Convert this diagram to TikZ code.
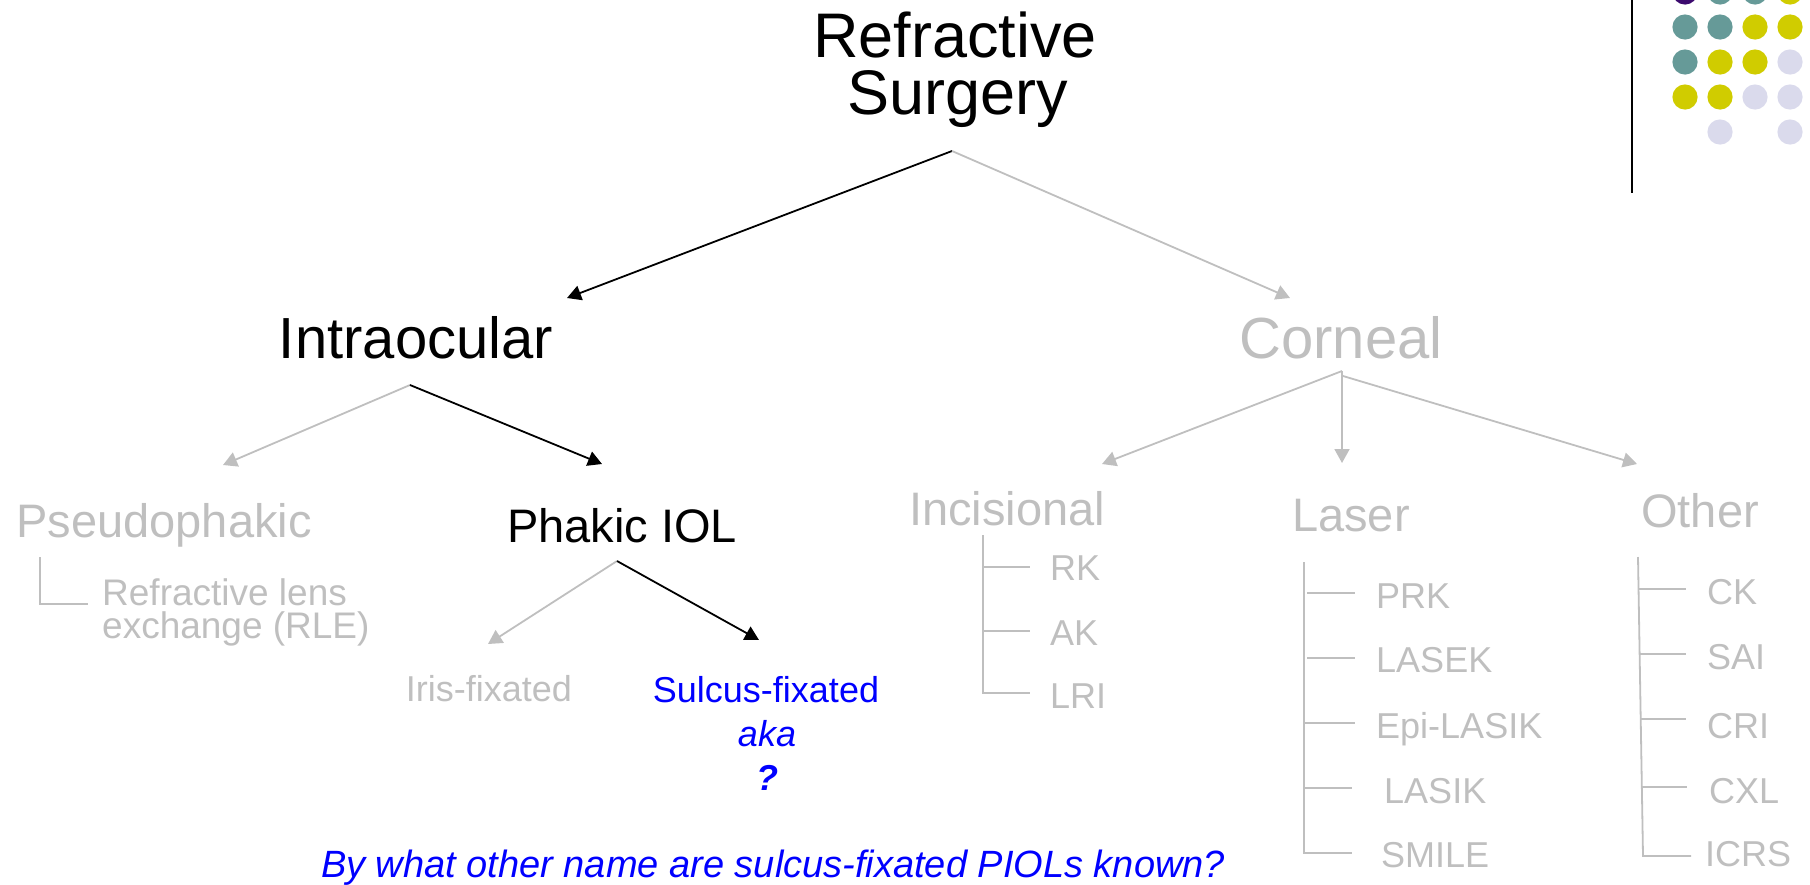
\documentclass[tikz,border=0pt]{standalone}
\usepackage{fontspec}
\setmainfont{Liberation Sans}
\usetikzlibrary{arrows.meta}

\definecolor{treegray}{HTML}{BFBFBF}
\definecolor{qblue}{HTML}{0000FF}
\definecolor{dotteal}{HTML}{669A98}
\definecolor{dotyellow}{HTML}{D0CC00}
\definecolor{dotlav}{HTML}{DADAEC}
\definecolor{dotpurple}{HTML}{3C0A6E}

\newcommand{\fsz}[1]{\fontsize{#1pt}{#1pt}\selectfont}

\tikzset{
  lbl/.style={inner sep=0pt, anchor=base},
  leaf/.style={inner sep=0pt, anchor=base west, text=treegray, font=\fsz{36}},
  top/.style={lbl, font=\fsz{63}},
  mid/.style={lbl, font=\fsz{58}},
  sub/.style={lbl, font=\fsz{47}},
  tip/.style={-{Triangle[length=14pt,width=15pt]}, line width=1.8pt},
  onpath/.style={tip, draw=black},
  offpath/.style={tip, draw=treegray, fill=treegray},
  bracket/.style={draw=treegray, line width=1.8pt},
  dot/.style={radius=12.6pt},
}

\begin{document}
\begin{tikzpicture}[x=1pt, y=-1pt]
\useasboundingbox (0,0) rectangle (1810,884);

% ---- decorative corner ----
\draw[black, line width=2pt] (1632,0) -- (1632,193);
\foreach \c/\x/\y in {
  dotpurple/1685/-8, dotteal/1720/-8, dotteal/1755/-8, dotyellow/1790/-8,
  dotteal/1685/27, dotteal/1720/27, dotyellow/1755/27, dotyellow/1790/27,
  dotteal/1685/62, dotyellow/1720/62, dotyellow/1755/62, dotlav/1790/62,
  dotyellow/1685/97, dotyellow/1720/97, dotlav/1755/97, dotlav/1790/97,
  dotlav/1720/132, dotlav/1790/132}
  \fill[\c] (\x,\y) circle[dot];

% ---- headings ----
\node[top] (rs1) at (955,57) {Refractive};
\node[top] (rs) at (958,114) {Surgery};
\node[mid] (intra) at (416,358) {Intraocular};
\node[mid, text=treegray] (corneal) at (1341,358) {Corneal};
\node[sub, text=treegray] (pseudo) at (164,537) {Pseudophakic};
\node[sub] (phakic) at (622,542) {Phakic IOL};
\node[sub, text=treegray] (incis) at (1007,525) {Incisional};
\node[sub, text=treegray] (laser) at (1351,531) {Laser};
\node[sub, text=treegray] (other) at (1700,527) {Other};

% ---- lens exchange ----
\node[leaf, font=\fsz{37}] (rle1) at (102,605) {Refractive lens};
\node[leaf, font=\fsz{37}] (rle2) at (102,638) {exchange (RLE)};

% ---- phakic IOL types ----
\node[lbl, text=treegray, font=\fsz{36}] (iris) at (489,701) {Iris-fixated};
\node[lbl, text=qblue, font=\fsz{36}] (sulcus) at (766,702) {Sulcus-fixated};
\node[lbl, text=qblue, font=\fsz{36}\itshape] (aka) at (767,746) {aka};
\node[lbl, text=qblue, font=\fsz{36}\bfseries\itshape] (qm) at (767,790) {?};
\node[lbl, text=qblue, font=\fsz{38}\itshape] (question) at (773,877)
  {By what other name are sulcus-fixated PIOLs known?};

% ---- corneal procedures ----
\node[leaf] (rk)  at (1050,580) {RK};
\node[leaf] (ak)  at (1050,645) {AK};
\node[leaf] (lri) at (1050,708) {LRI};

\node[leaf] (prk)    at (1376,608) {PRK};
\node[leaf] (lasek)  at (1376,672) {LASEK};
\node[leaf] (epi)    at (1376,738) {Epi-LASIK};
\node[leaf] (lasik)  at (1384,803) {LASIK};
\node[leaf] (smile)  at (1381,867) {SMILE};

\node[leaf] (ck)   at (1707,604) {CK};
\node[leaf] (sai)  at (1707,669) {SAI};
\node[leaf] (cri)  at (1707,738) {CRI};
\node[leaf] (cxl)  at (1709,803) {CXL};
\node[leaf] (icrs) at (1705,866) {ICRS};

% ---- fork points and arrow ends ----
\coordinate (rs-fork) at (952,151);
\coordinate (intra-in) at (567,298);
\coordinate (corneal-in) at (1290,298);
\coordinate (intra-fork) at (410,385);
\coordinate (pseudo-in) at (223,465);
\coordinate (phakic-in) at (602,464);
\coordinate (corneal-fork) at (1342,371);
\coordinate (corneal-fork2) at (1343,376);
\coordinate (incis-in) at (1102,464);
\coordinate (laser-in) at (1342,463);
\coordinate (other-in) at (1637,464);
\coordinate (phakic-fork) at (617,561);
\coordinate (iris-in) at (488,644);
\coordinate (sulcus-in) at (759,640);

% ---- arrows ----
\draw[onpath] (rs-fork) -- (intra-in);
\draw[offpath] (rs-fork) -- (corneal-in);
\draw[offpath] (intra-fork) -- (pseudo-in);
\draw[onpath] (intra-fork) -- (phakic-in);
\draw[offpath] (corneal-fork) -- (incis-in);
\draw[offpath] (corneal-fork) -- (laser-in);
\draw[offpath] (corneal-fork2) -- (other-in);
\draw[offpath] (phakic-fork) -- (iris-in);
\draw[onpath] (phakic-fork) -- (sulcus-in);

% ---- brackets ----
\draw[bracket] (40,557) -- (40,604) -- (88,604);

\draw[bracket] (983,535) -- (983,693) -- (1030,693);
\draw[bracket] (983,567) -- (1030,567);
\draw[bracket] (983,631) -- (1030,631);

\draw[bracket] (1304,562) -- (1304,853) -- (1352,853);
\draw[bracket] (1307,593) -- (1355,593);
\draw[bracket] (1307,658) -- (1355,658);
\draw[bracket] (1304,723) -- (1355,723);
\draw[bracket] (1304,788) -- (1352,788);

\draw[bracket] (1638,557) -- (1643,856) -- (1691,856);
\draw[bracket] (1638,589) -- (1686,589);
\draw[bracket] (1639,654) -- (1686,654);
\draw[bracket] (1640,719) -- (1686,719);
\draw[bracket] (1641,787) -- (1687,787);
\end{tikzpicture}
\end{document}
